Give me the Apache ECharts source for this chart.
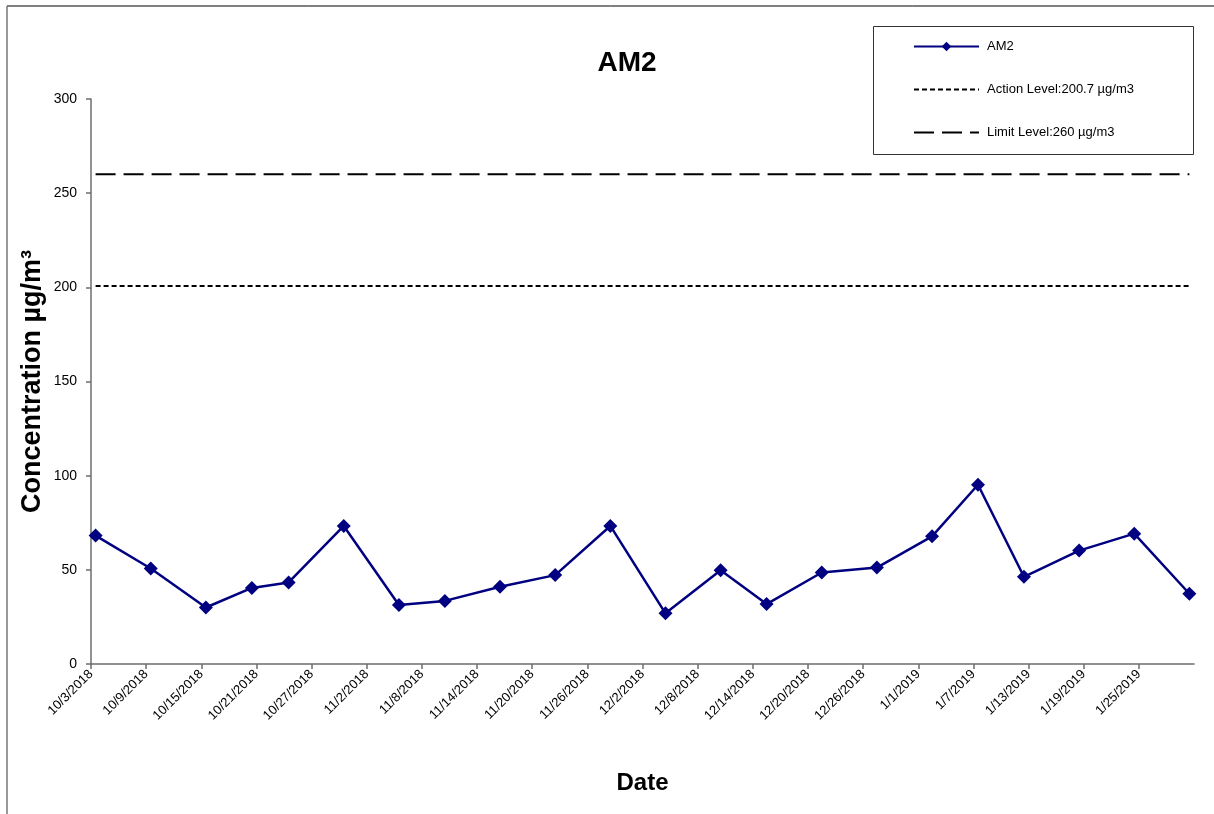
<!DOCTYPE html>
<html>
<head>
<meta charset="utf-8">
<script src="https://cdn.jsdelivr.net/npm/echarts@6/dist/echarts.min.js"></script>
<style>
html,body{margin:0;padding:0;background:#fff;}
#chart{width:1214px;height:814px;}
</style>
</head>
<body>
<div id="chart"></div>
<script>
// ---- data ----
var startDate = '2018-10-03';
var endDate = '2019-01-31';
var dates = ['2018-10-03','2018-10-09','2018-10-15','2018-10-20','2018-10-24','2018-10-30','2018-11-05','2018-11-10','2018-11-16','2018-11-22','2018-11-28','2018-12-04','2018-12-10','2018-12-15','2018-12-21','2018-12-27','2019-01-02','2019-01-07','2019-01-12','2019-01-18','2019-01-24','2019-01-30'];
var am2Values = [68.2, 50.7, 30.0, 40.4, 43.3, 73.3, 31.3, 33.5, 41.0, 47.2, 73.3, 26.9, 49.8, 31.8, 48.6, 51.2, 67.8, 95.2, 46.3, 60.2, 69.2, 37.3];
var actionLevel = 200.7;
var limitLevel = 260;
var seriesNames = ['AM2', 'Action Level:200.7 \u00b5g/m3', 'Limit Level:260 \u00b5g/m3'];
var tickDays = 6;

// ---- helpers ----
var DAY = 86400000;
function toUTC(s){ var p = s.split('-'); return Date.UTC(+p[0], +p[1]-1, +p[2]); }
var t0 = toUTC(startDate);
var spanDays = (toUTC(endDate) - t0) / DAY;
// Excel date axis places each point in the middle of its day
function dayPos(s){ return (toUTC(s) - t0) / DAY + 0.5; }
function fmt(d){ var dt = new Date(t0 + d * DAY); return (dt.getUTCMonth()+1) + '/' + dt.getUTCDate() + '/' + dt.getUTCFullYear(); }

var am2Data = dates.map(function(d, i){ return [dayPos(d), am2Values[i]]; });
var firstX = dayPos(dates[0]), lastX = dayPos(dates[dates.length-1]);

var FONT = '"Liberation Sans", Arial, sans-serif';
var chart = echarts.init(document.getElementById('chart'), null, {renderer:'canvas'});
chart.setOption({
  animation: false,
  backgroundColor: '#fff',
  textStyle: { fontFamily: FONT },
  grid: { left: 91, right: 20, top: 99, bottom: 150, containLabel: false },
  title: {
    text: 'AM2', left: 622, top: 44, textAlign: 'center',
    textStyle: { fontFamily: FONT, fontSize: 28, fontWeight: 'bold', color: '#000' }
  },
  legend: {
    orient: 'vertical', left: 913, top: 40, itemGap: 30, padding: 0,
    itemWidth: 65, itemHeight: 12,
    data: [
      { name: seriesNames[0] },
      { name: seriesNames[1], itemStyle: { opacity: 0 } },
      { name: seriesNames[2], itemStyle: { opacity: 0 } }
    ],
    textStyle: { fontFamily: FONT, fontSize: 13, color: '#000', padding: [0,0,0,3] }
  },
  xAxis: {
    type: 'value', min: 0, max: spanDays, interval: tickDays,
    name: 'Date', nameLocation: 'middle', nameGap: 107, nameMoveOverlap: false,
    nameTextStyle: { fontFamily: FONT, fontSize: 24, fontWeight: 'bold', color: '#000' },
    splitLine: { show: false },
    axisLine: { lineStyle: { color: '#6e6e6e', width: 1.5 } },
    axisTick: { length: 5, lineStyle: { color: '#6e6e6e', width: 1.5 } },
    axisLabel: {
      rotate: 45, showMaxLabel: false, fontSize: 13, color: '#000', fontFamily: FONT, margin: 8,
      formatter: function(v){ return fmt(v); }
    }
  },
  yAxis: {
    type: 'value', min: 0, max: 300, interval: 50,
    name: 'Concentration \u00b5g/m\u00b3', nameLocation: 'middle', nameGap: 45, nameMoveOverlap: false,
    nameTextStyle: { fontFamily: FONT, fontSize: 27, fontWeight: 'bold', color: '#000' },
    splitLine: { show: false },
    axisLine: { show: true, lineStyle: { color: '#6e6e6e', width: 1.5 } },
    axisTick: { show: true, length: 5, lineStyle: { color: '#6e6e6e', width: 1.5 } },
    axisLabel: { fontSize: 14, color: '#000', fontFamily: FONT, margin: 14 }
  },
  series: [
    {
      name: seriesNames[0], type: 'line', data: am2Data,
      symbol: 'diamond', symbolSize: 14,
      lineStyle: { color: '#000080', width: 2.5 },
      itemStyle: { color: '#000080' },
      z: 5
    },
    {
      name: seriesNames[1], type: 'line', data: [[firstX, actionLevel], [lastX, actionLevel]],
      symbol: 'none',
      lineStyle: { color: '#000', width: 2, type: [5, 3] },
      itemStyle: { color: '#000' }
    },
    {
      name: seriesNames[2], type: 'line', data: [[firstX, limitLevel], [lastX, limitLevel]],
      symbol: 'none',
      lineStyle: { color: '#000', width: 2, type: [20, 8] },
      itemStyle: { color: '#000' }
    }
  ],
  graphic: [
    { type: 'line', shape: { x1: 7, y1: 6, x2: 1214, y2: 6 }, style: { stroke: '#000', lineWidth: 1 }, silent: true },
    { type: 'line', shape: { x1: 7, y1: 6, x2: 7, y2: 814 }, style: { stroke: '#777', lineWidth: 1.5 }, silent: true },
    { type: 'rect', shape: { x: 873.5, y: 26.5, width: 320, height: 128 }, style: { fill: 'none', stroke: '#333', lineWidth: 1 }, silent: true, z: 10 }
  ]
});
</script>
</body>
</html>
